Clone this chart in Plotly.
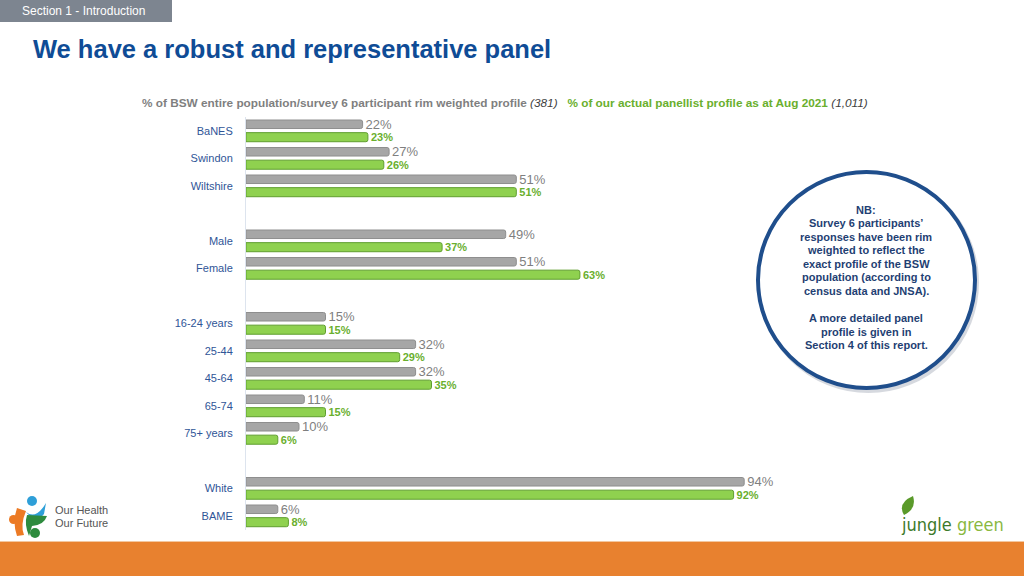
import plotly.graph_objects as go

categories = ["BaNES", "Swindon", "Wiltshire", "Male", "Female",
              "16-24 years", "25-44", "45-64", "65-74", "75+ years",
              "White", "BAME"]
population = [22, 27, 51, 49, 51, 15, 32, 32, 11, 10, 94, 6]
panel = [23, 26, 51, 37, 63, 15, 29, 35, 15, 6, 92, 8]
group_sizes = [3, 2, 5, 2]

# slot positions (one empty slot between groups)
ypos = []
p = 0
for g in group_sizes:
    for _ in range(g):
        ypos.append(p)
        p += 1
    p += 1

W, H = 1024, 576
def px(x): return x / W
def py(y): return 1 - y / H

FONT = "Liberation Sans, Arial, sans-serif"
GRAY = "#a6a6a6"
GREEN = "#8fd14f"

fig = go.Figure()
fig.add_trace(go.Bar(
    y=ypos, x=population, orientation="h", name="population",
    width=0.31, offset=-0.40,
    marker=dict(color=GRAY, line=dict(color="#8e8e8e", width=1), cornerradius=2),
    text=[f"{v}%" for v in population], textposition="outside",
    constraintext="none", cliponaxis=False,
    textfont=dict(family=FONT, size=13, color="#7f7f7f"),
))
fig.add_trace(go.Bar(
    y=ypos, x=panel, orientation="h", name="panel",
    width=0.33, offset=0.06,
    marker=dict(color=GREEN, line=dict(color="#5f9e2e", width=1), cornerradius=2),
    text=[f"<b>{v}%</b>" for v in panel], textposition="outside",
    constraintext="none", cliponaxis=False,
    textfont=dict(family=FONT, size=11, color="#6aaf2e"),
))

slot_top, slot_bot = 117.25, 529.75
fig.update_layout(
    width=W, height=H, margin=dict(l=0, r=0, t=0, b=0),
    paper_bgcolor="white", plot_bgcolor="white",
    showlegend=False, barmode="overlay",
    xaxis=dict(domain=[px(246), px(776)], range=[0, 100], visible=False, fixedrange=True),
    yaxis=dict(domain=[py(slot_bot), py(slot_top)], range=[max(ypos) + 0.5, -0.5],
               tickmode="array", tickvals=ypos, ticktext=categories,
               ticks="", ticklabelstandoff=10, showgrid=False, zeroline=False,
               showline=True, linecolor="#dde4ee", linewidth=1,
               tickfont=dict(family=FONT, size=11, color="#2f5597")),
)

shapes = []
shapes.append(dict(type="rect", xref="paper", yref="paper", x0=0, x1=px(172), y0=py(22), y1=1,
                   fillcolor="#7d8590", line=dict(width=0), layer="below"))
shapes.append(dict(type="rect", xref="paper", yref="paper", x0=0, x1=1, y0=0, y1=py(542),
                   fillcolor="#e8812f", line=dict(width=0)))
shapes.append(dict(type="line", xref="paper", yref="paper", x0=0, x1=1, y0=py(541.5), y1=py(541.5),
                   line=dict(color="#f3c7a0", width=1)))
shapes.append(dict(type="circle", xref="paper", yref="paper",
                   x0=px(760), x1=px(977), y0=py(391), y1=py(174),
                   fillcolor="rgba(0,0,0,0)", line=dict(color="rgba(120,130,150,0.3)", width=4)))
shapes.append(dict(type="circle", xref="paper", yref="paper",
                   x0=px(758), x1=px(975), y0=py(388), y1=py(172),
                   fillcolor="white", line=dict(color="#1f4e8c", width=4)))
# Our Health logo (approximation)
shapes.append(dict(type="circle", xref="paper", yref="paper", x0=px(27), x1=px(37), y0=py(506), y1=py(496),
                   fillcolor="#2e9fd8", line=dict(width=0)))
shapes.append(dict(type="path", xref="paper", yref="paper",
                   path=f"M {px(26)},{py(512)} Q {px(36)},{py(520)} {px(46)},{py(503)} L {px(44)},{py(514)} Q {px(36)},{py(524)} {px(26)},{py(512)} Z",
                   fillcolor="#2e9fd8", line=dict(width=0)))
shapes.append(dict(type="circle", xref="paper", yref="paper", x0=px(9), x1=px(18), y0=py(524), y1=py(515),
                   fillcolor="#ec7a24", line=dict(width=0)))
shapes.append(dict(type="path", xref="paper", yref="paper",
                   path=f"M {px(17)},{py(508)} L {px(26)},{py(511)} Q {px(20)},{py(525)} {px(24)},{py(535)} L {px(17)},{py(536)} Q {px(12)},{py(522)} {px(17)},{py(508)} Z",
                   fillcolor="#ec7a24", line=dict(width=0)))
shapes.append(dict(type="circle", xref="paper", yref="paper", x0=px(30), x1=px(40), y0=py(538), y1=py(528),
                   fillcolor="#2e8b3e", line=dict(width=0)))
shapes.append(dict(type="path", xref="paper", yref="paper",
                   path=f"M {px(27)},{py(515)} L {px(47)},{py(516)} Q {px(44)},{py(525)} {px(32)},{py(526)} L {px(29)},{py(536)} Q {px(24)},{py(524)} {px(27)},{py(515)} Z",
                   fillcolor="#2e8b3e", line=dict(width=0)))
# jungle green leaf
shapes.append(dict(type="path", xref="paper", yref="paper",
                   path=f"M {px(904)},{py(515)} Q {px(897)},{py(503)} {px(913)},{py(496)} Q {px(917)},{py(509)} {px(904)},{py(515)} Z",
                   fillcolor="#5a9a2a", line=dict(width=0)))
fig.update_layout(shapes=shapes)

ann = []
ann.append(dict(x=px(20), y=py(11), xref="paper", yref="paper", xanchor="left", yanchor="middle",
                text="Section 1 - Introduction", showarrow=False,
                font=dict(family=FONT, size=12, color="white")))
ann.append(dict(x=px(31), y=py(49), xref="paper", yref="paper", xanchor="left", yanchor="middle",
                text="<b>We have a robust and representative panel</b>", showarrow=False,
                font=dict(family=FONT, size=25.5, color="#0f4c96")))
ann.append(dict(x=px(140), y=py(103), xref="paper", yref="paper", xanchor="left", yanchor="middle",
                text="<b>% of BSW entire population/survey 6 participant rim weighted profile</b> "
                     "<i><span style='color:#404040'>(381)</span></i>   "
                     "<span style='color:#6aaf2e'><b>% of our actual panellist profile as at Aug 2021</b></span> "
                     "<i><span style='color:#404040'>(1,011)</span></i>",
                showarrow=False, font=dict(family=FONT, size=11.8, color="#7f7f7f")))

nb_lines = ["NB:", "Survey 6 participants’", "responses have been rim", "weighted to reflect the",
            "exact profile of the BSW", "population (according to", "census data and JNSA).", "",
            "A more detailed panel", "profile is given in", "Section 4 of this report."]
y0 = 210
for i, line in enumerate(nb_lines):
    if not line:
        continue
    ann.append(dict(x=px(866), y=py(y0 + i * 13.5), xref="paper", yref="paper",
                    xanchor="center", yanchor="middle", text=f"<b>{line}</b>", showarrow=False,
                    font=dict(family=FONT, size=11, color="#1f3f73")))

ann.append(dict(x=px(53), y=py(510), xref="paper", yref="paper", xanchor="left", yanchor="middle",
                text="Our Health", showarrow=False, font=dict(family=FONT, size=11, color="#555555")))
ann.append(dict(x=px(53), y=py(523), xref="paper", yref="paper", xanchor="left", yanchor="middle",
                text="Our Future", showarrow=False, font=dict(family=FONT, size=11, color="#555555")))
ann.append(dict(x=px(899), y=py(524), xref="paper", yref="paper", xanchor="left", yanchor="middle",
                text="<span style='color:#3d7a2a'>jungle</span> <span style='color:#8ab83f'>green</span>",
                showarrow=False, font=dict(family="Liberation Sans Narrow, DejaVu Sans Condensed, sans-serif", size=18)))
fig.update_layout(annotations=ann)

fig.write_html("out.html", config={"displayModeBar": False},
               post_script="document.body.style.margin='0';document.body.style.overflow='hidden';")
